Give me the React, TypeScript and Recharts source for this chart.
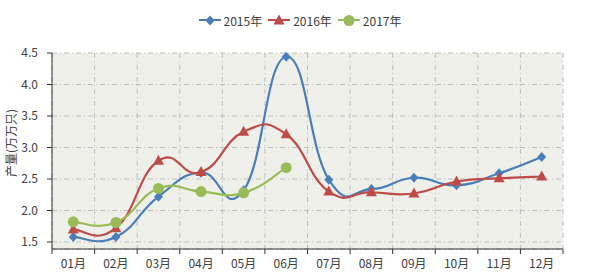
import {
  CartesianGrid,
  Legend,
  Line,
  LineChart,
  XAxis,
  YAxis,
} from 'recharts'

const months = ['01月', '02月', '03月', '04月', '05月', '06月', '07月', '08月', '09月', '10月', '11月', '12月']
const y2015 = [1.58, 1.58, 2.22, 2.6, 2.32, 4.44, 2.49, 2.34, 2.52, 2.4, 2.59, 2.85]
const y2016 = [1.7, 1.72, 2.79, 2.61, 3.25, 3.21, 2.3, 2.29, 2.27, 2.46, 2.51, 2.54]
const y2017 = [1.82, 1.81, 2.35, 2.3, 2.28, 2.68, null, null, null, null, null, null]
const yTicks = [1.5, 2.0, 2.5, 3.0, 3.5, 4.0, 4.5]

const series = [
  { key: 'y2015', name: '2015年', color: '#4a7ebb', shape: 'diamond' },
  { key: 'y2016', name: '2016年', color: '#be4b48', shape: 'triangle' },
  { key: 'y2017', name: '2017年', color: '#9bbb59', shape: 'circle' },
]

const data = months.map((m, i) => ({
  month: m,
  y2015: y2015[i],
  y2016: y2016[i],
  y2017: y2017[i],
}))

const W = 600
const H = 278
const margin = { top: 33, right: 37, left: 0, bottom: 0 }
const Y_W = 52
const X_H = 29
const AXIS_Y = H - X_H
const BAND = (W - margin.right - Y_W) / months.length

// excel-like smoothing (catmull-rom with a bit more tension)
const smooth = (context: any) => {
  let pts: number[][] = []
  const k = 0.24
  return {
    areaStart() {},
    areaEnd() {},
    lineStart() {
      pts = []
    },
    point(x: number, y: number) {
      pts.push([+x, +y])
    },
    lineEnd() {
      if (!pts.length) return
      context.moveTo(pts[0][0], pts[0][1])
      for (let i = 0; i < pts.length - 1; i++) {
        const p0 = pts[i - 1] || pts[i]
        const p1 = pts[i]
        const p2 = pts[i + 1]
        const p3 = pts[i + 2] || p2
        context.bezierCurveTo(
          p1[0] + (p2[0] - p0[0]) * k,
          p1[1] + (p2[1] - p0[1]) * k,
          p2[0] - (p3[0] - p1[0]) * k,
          p2[1] - (p3[1] - p1[1]) * k,
          p2[0],
          p2[1]
        )
      }
    },
  }
}

function Marker({ shape, cx, cy, color }: any) {
  if (shape === 'diamond') {
    return <path d={`M${cx},${cy - 5}L${cx + 4.5},${cy}L${cx},${cy + 5}L${cx - 4.5},${cy}Z`} fill={color} />
  }
  if (shape === 'triangle') {
    return <path d={`M${cx},${cy - 6}L${cx + 5.5},${cy + 4}L${cx - 5.5},${cy + 4}Z`} fill={color} />
  }
  return <circle cx={cx} cy={cy} r={5.5} fill={color} />
}

const makeDot = (shape: string, color: string) => (props: any) => {
  const { cx, cy, value, index } = props
  if (cx == null || cy == null || value == null) return <g key={index} />
  return (
    <g key={index}>
      <Marker shape={shape} cx={cx} cy={cy} color={color} />
    </g>
  )
}

function MonthTick(props: any) {
  const { x, payload, index } = props
  return (
    <g>
      {index === 0 && (
        <line x1={x - BAND / 2} x2={x - BAND / 2} y1={AXIS_Y} y2={AXIS_Y + 5} stroke='#333' />
      )}
      <line x1={x + BAND / 2} x2={x + BAND / 2} y1={AXIS_Y} y2={AXIS_Y + 5} stroke='#333' />
      <text x={x} y={AXIS_Y + 19} textAnchor='middle' fill='#404040' fontSize={12}>
        {payload.value}
      </text>
    </g>
  )
}

function LegendContent() {
  return (
    <div style={{ display: 'flex', justifyContent: 'center', alignItems: 'center', height: 20 }}>
      {series.map((s) => (
        <div key={s.key} style={{ display: 'flex', alignItems: 'center', margin: '0 3px' }}>
          <svg width={22} height={12}>
            <line x1={0} x2={22} y1={6} y2={6} stroke={s.color} strokeWidth={2} />
            <Marker shape={s.shape} cx={11} cy={6.5} color={s.color} />
          </svg>
          <span style={{ fontSize: 12, color: '#404040', marginLeft: 3 }}>{s.name}</span>
        </div>
      ))}
    </div>
  )
}

export default function App() {
  return (
    <div
      style={{
        position: 'absolute',
        left: 0,
        top: 0,
        width: W,
        height: H,
        background: '#fff',
        fontFamily: '"Noto Sans CJK SC", "Noto Sans", sans-serif',
      }}
    >
      <LineChart width={W} height={H} data={data} margin={margin}>
        <CartesianGrid
          fill='#f0f0eb'
          stroke='#bdbdbd'
          strokeDasharray='5 3 1 3'
          verticalCoordinatesGenerator={({ offset }: any) =>
            Array.from({ length: months.length + 1 }, (_, i) => offset.left + (i * offset.width) / months.length)
          }
        />
        <XAxis
          dataKey='month'
          height={X_H}
          padding={{ left: BAND / 2, right: BAND / 2 }}
          tickLine={false}
          axisLine={{ stroke: '#333' }}
          tick={<MonthTick />}
          interval={0}
        />
        <YAxis
          width={Y_W}
          domain={[1.5 - 7 / 63, 4.5]}
          ticks={yTicks}
          tickFormatter={(v: number) => v.toFixed(1)}
          tickSize={5}
          tickMargin={9}
          axisLine={{ stroke: '#333' }}
          tickLine={{ stroke: '#333' }}
          tick={{ fill: '#404040', fontSize: 12 }}
          label={{
            value: '产量(万万只)',
            angle: -90,
            position: 'center',
            dx: -14,
            dy: -8,
            style: { fill: '#404040', fontSize: 12 },
          }}
        />
        <Legend
          verticalAlign='top'
          content={<LegendContent />}
          wrapperStyle={{ top: 10, left: 0, width: W, height: 20 }}
        />
        {series.map((s) => (
          <Line
            key={s.key}
            dataKey={s.key}
            name={s.name}
            type={smooth as any}
            stroke={s.color}
            strokeWidth={2.2}
            dot={makeDot(s.shape, s.color)}
            activeDot={false}
            isAnimationActive={false}
          />
        ))}
      </LineChart>
    </div>
  )
}
